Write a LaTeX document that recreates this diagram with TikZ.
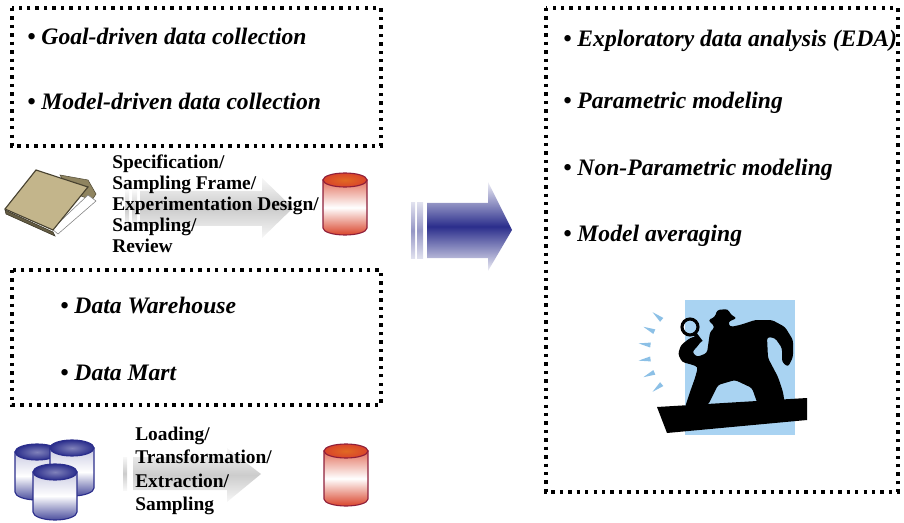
\documentclass[tikz,border=0pt]{standalone}
\usepackage{fontspec}
\setmainfont{Liberation Serif}

\definecolor{tankred}{HTML}{D9442B}
\definecolor{tankedge}{HTML}{8E1F3A}
\definecolor{navy}{HTML}{2B2E8C}
\definecolor{folder}{HTML}{C3B58B}
\definecolor{folderdark}{HTML}{8F8460}
\definecolor{skyblue}{HTML}{A9D3F2}
\definecolor{rayblue}{HTML}{8CC0E6}

\tikzset{
  dotbox/.style={line width=2.4pt, dash pattern=on 2.4pt off 3.6pt},
  item/.style={anchor=base west, inner sep=0pt, font=\fontsize{16.8}{20}\selectfont\bfseries\itshape},
  stepnote/.style={anchor=west, inner sep=0pt, align=left, font=\fontsize{13.8}{14.9}\selectfont\bfseries},
  % middle color goes last, top/bottom color reset it
  greyshade/.style={top color=gray!6, bottom color=gray!6, middle color=gray!40},
  blueshade/.style={top color=navy!8, bottom color=navy!8, middle color=navy},
  barshade/.style={top color=navy!15, bottom color=navy!15, middle color=navy!50},
  % red storage tank, origin = centre of the top
  pics/redtank/.style={code={
    \shadedraw[top color=tankred!75, bottom color=tankred, middle color=white, draw=tankedge, line width=0.8pt]
      (-22,0) -- (-22,-48) arc[start angle=180, end angle=360, x radius=22, y radius=7] -- (22,0) -- cycle;
    \shadedraw[inner color=tankred!80!yellow, outer color=tankred, draw=tankedge, line width=0.8pt]
      (0,0) ellipse [x radius=22, y radius=7];
  }},
  % blue storage tank
  pics/bluetank/.style={code={
    \shadedraw[top color=navy!25, bottom color=navy!85, middle color=white, draw=navy, line width=0.8pt]
      (-22,0) -- (-22,-40) arc[start angle=180, end angle=360, x radius=22, y radius=8] -- (22,0) -- cycle;
    \shadedraw[inner color=navy!60, outer color=navy, draw=navy, line width=0.8pt]
      (0,0) ellipse [x radius=22, y radius=8];
  }},
}

\begin{document}
\begin{tikzpicture}[x=0.025cm, y=0.025cm]
    \useasboundingbox (0,0) rectangle (904,522);

    % Draw the dotted boxes
    \draw[dotbox] (12,514) rectangle (381,376);
    \draw[dotbox] (12,252) rectangle (381,117);
    \draw[dotbox] (546,514) rectangle (898,30);

    % Items of the collection box
    \node[item] (goal) at (27,477) {• Goal-driven data collection};
    \node[item] (model) at (27,412) {• Model-driven data collection};

    % Items of the warehouse box
    \node[item] (dwh) at (60,209) {• Data Warehouse};
    \node[item] (dmart) at (60,142) {• Data Mart};

    % Items of the analysis box
    \node[item] (eda) at (563,475) {• Exploratory data analysis (EDA)};
    \node[item] (param) at (563,413) {• Parametric modeling};
    \node[item] (nonparam) at (563,347) {• Non-Parametric modeling};
    \node[item] (avg) at (563,280) {• Model averaging};

    % Folder: back cover, sheets, front cover
    \filldraw[fill=folderdark, draw=folderdark!60!black] (60,347) -- (88,342) -- (96,328) -- (92,322) -- (70,330) -- cycle;
    \filldraw[fill=white, draw=gray] (52,293) -- (88,327) -- (96,321) -- (58,288) -- cycle;
    \filldraw[fill=folderdark!70!black, draw=folderdark!40!black] (5,312) -- (53,290) -- (55,286) -- (6,308) -- cycle;
    \filldraw[fill=folder, draw=folderdark!50!black, line width=0.8pt] (36,352) -- (88,335) -- (53,292) -- (5,313) -- cycle;

    % Grey arrows behind the step lists
    \shade[greyshade] (125,331) rectangle (129,296);
    \shade[greyshade] (132,331) rectangle (137,296);
    \shade[greyshade] (140,331) -- (262,331) -- (262,344) -- (293,314) -- (262,284) -- (262,296) -- (140,296) -- cycle;
    \shade[greyshade] (123,65) rectangle (127,32);
    \shade[greyshade] (133,65) -- (227,65) -- (227,74) -- (261,48) -- (227,20) -- (227,32) -- (133,32) -- cycle;

    % Step lists
    \node[stepnote] (specs) at (112,318) {Specification/\\Sampling Frame/\\Experimentation Design/\\Sampling/\\Review};
    \node[stepnote, font=\fontsize{13.8}{16.6}\selectfont\bfseries] (etl) at (135,51) {Loading/\\Transformation/\\Extraction/\\Sampling};

    % Tanks
    \pic at (345,342) {redtank};
    \pic at (346,71) {redtank};
    \pic at (37,70) {bluetank};
    \pic at (72,74) {bluetank};
    \pic at (55,50) {bluetank};

    % Big blue arrow
    \shade[barshade] (411,319) rectangle (415,264);
    \shade[barshade] (417,319) rectangle (423,264);
    \shade[blueshade] (427,319) -- (488,319) -- (488,340) -- (512,292) -- (488,251) -- (488,264) -- (427,264) -- cycle;

    % Detective
    \fill[skyblue] (685,222) rectangle (795,87);
    \foreach \a in {-40,-24,-8,8,24,40}
      \fill[rayblue, shift={(700,170)}, rotate=\a] (-62,0) -- (-50,-2.5) -- (-50,2.5) -- cycle;
    \fill[black] (657,115) -- (807,124) -- (807,102) -- (667,89) -- cycle;
    \fill[black, rounded corners=2pt] (685,115) -- (690,130) -- (695,144) -- (698,155) -- (693,157)
      -- (682,160) -- (678,168) -- (681,177) -- (690,184) -- (697,186) -- (702,182) -- (697,175)
      -- (692,170) -- (697,165) -- (707,169) -- (710,190) -- (715,195) -- (708,202) -- (715,205)
      -- (717,212) -- (728,213) -- (731,207) -- (737,204) -- (728,200) -- (730,195) -- (740,197)
      -- (755,202) -- (772,202) -- (785,195) -- (793,182) -- (793,165) -- (788,155) -- (782,160)
      -- (782,174) -- (775,184) -- (767,185) -- (768,164) -- (778,145) -- (783,130) -- (785,117)
      -- (758,117) -- (752,134) -- (735,142) -- (718,137) -- (708,117) -- cycle;
    \draw[black, line width=2.2pt] (690,195) circle [radius=8];
    \draw[black, line width=2.8pt] (695,188) -- (701,180);
\end{tikzpicture}
\end{document}
